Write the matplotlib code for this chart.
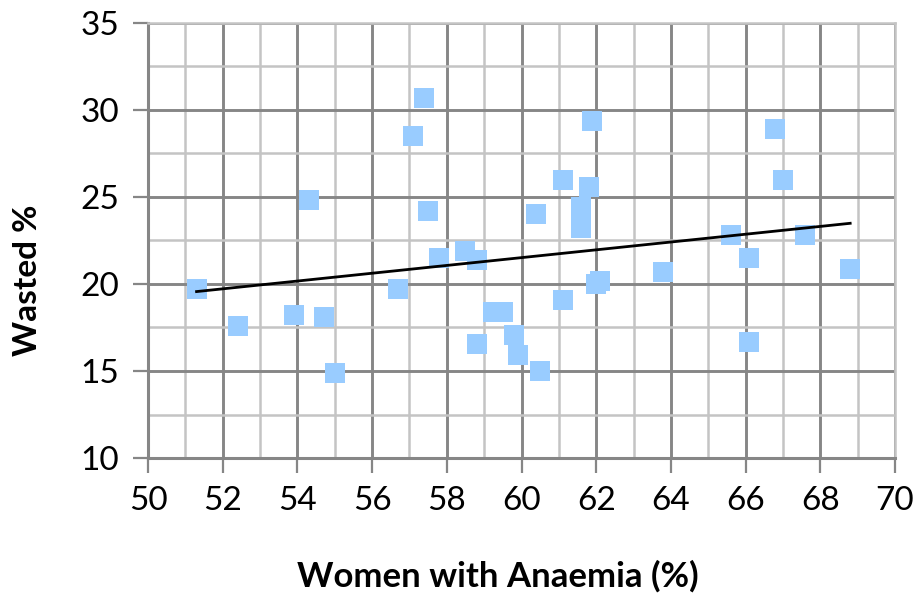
import numpy as np
import matplotlib
matplotlib.use("Agg")
import matplotlib.pyplot as plt
from matplotlib.ticker import MultipleLocator

# Data
anaemia = [51.3, 52.4, 53.9, 54.3, 54.7, 55.0, 56.7, 57.1, 57.4, 57.5, 57.8, 58.5,
           58.8, 58.8, 59.25, 59.5, 59.8, 59.9, 60.4, 60.5, 61.1, 61.1, 61.6, 61.6,
           61.6, 61.8, 61.9, 62.0, 62.1, 63.8, 65.6, 66.1, 66.1, 66.8, 67.0, 67.6, 68.8]
wasted = [19.7, 17.6, 18.2, 24.8, 18.1, 14.9, 19.7, 28.5, 30.7, 24.2, 21.5, 21.9,
          21.4, 16.55, 18.4, 18.4, 17.05, 15.9, 24.0, 15.0, 26.0, 19.1, 24.4, 23.8,
          23.2, 25.6, 29.35, 20.0, 20.2, 20.7, 22.8, 21.5, 16.65, 28.9, 26.0, 22.8, 20.85]
x_ticks = [50, 52, 54, 56, 58, 60, 62, 64, 66, 68, 70]
y_ticks = [10, 15, 20, 25, 30, 35]
x_title = "Women with Anaemia (%)"
y_title = "Wasted %"

plt.rcParams['font.family'] = ['Lato', 'DejaVu Sans']

W, H = 915, 598
fig = plt.figure(figsize=(W / 100, H / 100), dpi=100)
ax = fig.add_axes([148 / W, (H - 458) / H, (895 - 148) / W, (458 - 23) / H])

major_c = '#868686'
minor_c = '#c4c4c4'

ax.set_xlim(50, 70)
ax.set_ylim(10, 35)
ax.set_xticks(x_ticks)
ax.set_yticks(y_ticks)
ax.xaxis.set_minor_locator(MultipleLocator(1))
ax.yaxis.set_minor_locator(MultipleLocator(2.5))
ax.grid(which='major', color=major_c, lw=2.1, zorder=0)
ax.grid(which='minor', color=minor_c, lw=1.8, zorder=0)
ax.set_axisbelow(True)

ax.tick_params(which='major', direction='out', length=11, width=1.6,
               color=major_c, labelsize=24, pad=9)
ax.tick_params(which='minor', length=0)
ax.tick_params(axis='y', pad=10)

for s in ['left', 'bottom']:
    ax.spines[s].set_color(major_c)
    ax.spines[s].set_linewidth(2.2)
for s in ['top', 'right']:
    ax.spines[s].set_color(minor_c)
    ax.spines[s].set_linewidth(1.8)

ax.plot(anaemia, wasted, linestyle='none', marker='s', markersize=15,
        color='#99CCFF', markeredgewidth=0, zorder=3, clip_on=False)

coef = np.polyfit(anaemia, wasted, 1)
xs = np.array([min(anaemia), max(anaemia)])
ax.plot(xs, np.polyval(coef, xs), color='black', lw=2.0, zorder=4)

fig.text(498 / W, 1 - 576 / H, x_title, ha='center', va='center',
         fontsize=25, fontweight='bold')
fig.text(28 / W, 1 - 280 / H, y_title, ha='center', va='center',
         rotation=90, fontsize=24, fontweight='bold')

fig.savefig('out.png', dpi=100)
